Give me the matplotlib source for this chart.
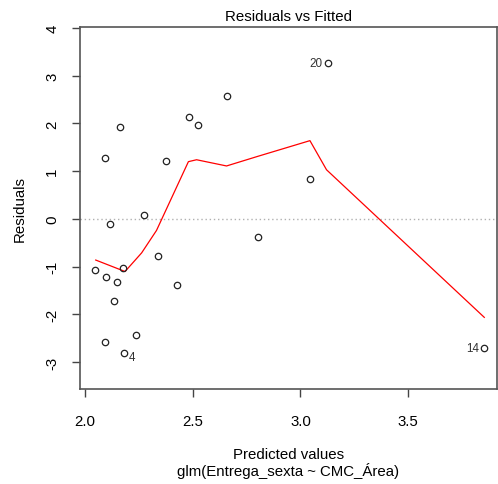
import matplotlib
matplotlib.use("Agg")
import matplotlib.pyplot as plt

plt.rcParams['font.family'] = ['Liberation Sans', 'DejaVu Sans']

# fitted values and residuals
fitted = [2.046, 2.093, 2.164, 2.114, 2.097, 2.147, 2.136, 2.178, 2.093, 2.237, 2.182,
          2.272, 2.339, 2.376, 2.428, 2.484, 2.523, 2.657, 2.801, 3.044, 3.126, 3.853]
resid = [-1.07, 1.28, 1.92, -0.11, -1.21, -1.32, -1.71, -1.03, -2.58, -2.43, -2.80,
         0.09, -0.78, 1.22, -1.39, 2.13, 1.97, 2.57, -0.38, 0.84, 3.26, -2.71]
point_ids = ['', '', '', '', '', '', '', '', '', '', '4',
             '', '', '', '', '', '', '', '', '', '20', '14']

# smoother through the residuals
smooth_x = [2.05, 2.186, 2.263, 2.332, 2.48, 2.518, 2.657, 2.801, 3.044, 3.121, 3.853]
smooth_y = [-0.86, -1.10, -0.71, -0.24, 1.20, 1.24, 1.11, 1.31, 1.64, 1.03, -2.06]

xticks = [2.0, 2.5, 3.0, 3.5]
yticks = [-3, -2, -1, 0, 1, 2, 3, 4]

fs = 10.8

fig = plt.figure(figsize=(4.98, 4.85), dpi=100)
ax = fig.add_axes([80 / 498, 95 / 485, 417 / 498, 362.5 / 485])

ax.axhline(0, color='#b0b0b0', lw=1, ls=(0, (1, 2)))
ax.plot(smooth_x, smooth_y, color='red', lw=0.9)
ax.plot(fitted, resid, 'o', ms=4.6, mfc='none', mec='#222222', mew=0.9)

for x, y, lab in zip(fitted, resid, point_ids):
    if not lab:
        continue
    if lab == '4':
        ax.annotate(lab, (x, y), xytext=(3, -3), textcoords='offset points',
                    ha='left', va='center', fontsize=8.4, color='#333333')
    else:
        ax.annotate(lab, (x, y), xytext=(-4, 0), textcoords='offset points',
                    ha='right', va='center', fontsize=8.4, color='#333333')

ax.set_xlim(1.977, 3.912)
ax.set_ylim(-3.56, 4.03)
ax.set_xticks(xticks)
ax.set_xticklabels([f'{t:.1f}' for t in xticks])
ax.set_yticks(yticks)
ax.set_yticklabels([str(t) for t in yticks], rotation=90, va='center')

for s in ax.spines.values():
    s.set_color('#555555')
    s.set_linewidth(1.2)
ax.tick_params(direction='out', length=6, width=1, color='#444444',
               labelsize=fs, labelcolor='black')
ax.tick_params(axis='x', pad=12)
ax.tick_params(axis='y', pad=9)

ax.set_title('Residuals vs Fitted', fontsize=fs, pad=5)
ax.set_ylabel('Residuals', fontsize=fs, labelpad=13)
ax.set_xlabel('Predicted values\nglm(Entrega_sexta ~ CMC_Área)', fontsize=fs,
              labelpad=14, linespacing=1.05)

fig.savefig('out.png', dpi=100)
